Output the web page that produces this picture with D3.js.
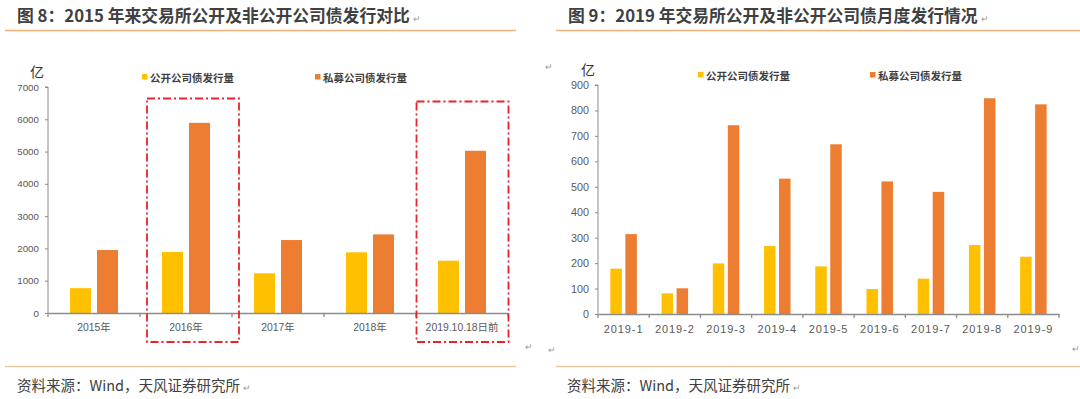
<!DOCTYPE html>
<html><head><meta charset="utf-8">
<script src="https://cdn.jsdelivr.net/npm/d3@7"></script>
<style>body{margin:0;background:#fff;}svg{display:block;}</style>
</head><body>
<svg id="c" width="1080" height="399"></svg>
<script>
const leftCats = ["2015年","2016年","2017年","2018年","2019.10.18日前"];
const leftPublic = [770, 1890, 1230, 1880, 1620];
const leftPrivate = [1950, 5890, 2260, 2435, 5025];
const leftTicks = [0,1000,2000,3000,4000,5000,6000,7000];
const leftHighlight = ["2016年","2019.10.18日前"];

const rightCats = ["2019-1","2019-2","2019-3","2019-4","2019-5","2019-6","2019-7","2019-8","2019-9"];
const rightPublic = [178, 81, 199, 267, 187, 98, 139, 271, 225];
const rightPrivate = [314, 101, 742, 532, 667, 521, 480, 848, 824];
const rightTicks = [0,100,200,300,400,500,600,700,800,900];

const seriesNames = ["公开公司债发行量","私募公司债发行量"];
const seriesNamesR = ["公开公司债发行量","私募公司债发行量"];
const titles = ["图 8：2015 年来交易所公开及非公开公司债发行对比","图 9：2019 年交易所公开及非公开公司债月度发行情况"];
const sourceText = "资料来源：Wind，天风证券研究所";

const YEL = "#FFC000", ORA = "#ED7D31";
const FONT = "'Liberation Sans','Noto Sans CJK SC',sans-serif";
const CJK = "'Noto Sans CJK SC',sans-serif";
const svg = d3.select("#c");

function header(x, lineX0, lineX1, title, srcX, botX0) {
  svg.append("text").attr("x", x).attr("y", 22).attr("font-family", CJK).attr("font-weight", "bold")
    .attr("font-size", 16.8).attr("fill", "#404040").text(title)
    .append("tspan").attr("font-size", 9).attr("font-weight", "normal").attr("fill", "#999").attr("dx", 3).text("↵");
  svg.append("line").attr("x1", lineX0).attr("x2", lineX1).attr("y1", 30.5).attr("y2", 30.5)
    .attr("stroke", "#F2B07A").attr("stroke-width", 1.3);
  svg.append("line").attr("x1", botX0).attr("x2", lineX1).attr("y1", 366.5).attr("y2", 366.5)
    .attr("stroke", "#EBC9A0").attr("stroke-width", 1.3);
  svg.append("text").attr("x", srcX).attr("y", 391).attr("font-family", CJK)
    .attr("font-size", 14.5).attr("fill", "#404040").text(sourceText)
    .append("tspan").attr("font-size", 9).attr("fill", "#999").attr("dx", 3).text("↵");
}
header(17, 5, 516, titles[0], 17, 5);
header(568, 556, 1080, titles[1], 567, 556);
svg.append("text").attr("x", 548).attr("y", 353).attr("font-size", 9).attr("fill", "#999").text("↵");
svg.append("text").attr("x", 525).attr("y", 350).attr("font-size", 9).attr("fill", "#999").text("↵");
svg.append("text").attr("x", 545).attr("y", 70).attr("font-size", 9).attr("fill", "#999").text("↵");
svg.append("text").attr("x", 1072).attr("y", 352).attr("font-size", 9).attr("fill", "#999").text("↵");

function chart(opt) {
  const g = svg.append("g");
  const x = d3.scaleBand().domain(opt.cats).range([opt.x0, opt.x1]);
  const y = d3.scaleLinear().domain([0, opt.ticks[opt.ticks.length-1]]).range([opt.y0, opt.y1]);
  const ya = g.append("g").attr("transform", `translate(${opt.x0},0)`)
    .call(d3.axisLeft(y).tickValues(opt.ticks).tickSize(3).tickPadding(opt.tpad).tickFormat(d3.format("d")));
  ya.select(".domain").attr("stroke", "#8c8c8c").attr("d", `M-3,${opt.y1}H0V${opt.y0}`);
  ya.selectAll(".tick line").attr("stroke", "#8c8c8c");
  ya.selectAll(".tick text").attr("font-family", FONT).attr("font-size", opt.tfs).attr("fill", "#595959");
  const bw = opt.bw, gap = opt.gap;
  const series = [opt.pub, opt.priv];
  const cols = [YEL, ORA];
  series.forEach((vals, si) => {
    g.selectAll(null).data(opt.cats).enter().append("rect")
      .attr("x", (d) => x(d) + x.bandwidth()/2 + (si === 0 ? -(bw + gap/2) : gap/2))
      .attr("width", bw)
      .attr("y", (d, i) => y(vals[i]))
      .attr("height", (d, i) => opt.y0 - y(vals[i]))
      .attr("fill", cols[si]);
  });
  const xa = g.append("g").attr("transform", `translate(0,${opt.y0})`)
    .call(d3.axisBottom(x).tickSize(0).tickPadding(opt.xpad));
  xa.select(".domain").attr("stroke", "#8c8c8c").attr("stroke-width", 1.3);
  xa.selectAll(".tick text").attr("font-family", FONT).attr("font-size", opt.xfs).attr("fill", "#595959")
    .attr("letter-spacing", opt.ls);
  const bounds = opt.cats.map(c => x(c)).concat([opt.x1]);
  g.selectAll(null).data(bounds).enter().append("line")
    .attr("x1", d => d).attr("x2", d => d).attr("y1", opt.y0).attr("y2", opt.y0 + 4)
    .attr("stroke", "#8c8c8c").attr("stroke-width", 1.3);
  g.append("text").attr("x", opt.unitX).attr("y", opt.y1 - 10).attr("font-family", CJK)
    .attr("font-size", 14).attr("fill", "#333").text("亿");
  opt.legend.forEach((lx, i) => {
    g.append("rect").attr("x", lx).attr("y", opt.legY - 4).attr("width", 5.5).attr("height", 5.5).attr("fill", cols[i]);
    g.append("text").attr("x", lx + 8).attr("y", opt.legY + 4).attr("font-family", CJK).attr("font-weight", "bold")
      .attr("font-size", opt.lfs).attr("fill", "#404040").text(opt.names[i]);
  });
  return {x, y, g};
}

const L = chart({cats: leftCats, pub: leftPublic, priv: leftPrivate, ticks: leftTicks,
  x0: 48, x1: 508, y0: 313, y1: 87, bw: 21, gap: 6, tfs: 9.8, xfs: 10.4, tpad: 6, xpad: 11, ls: 0,
  unitX: 30, legend: [142, 315], legY: 78, lfs: 10.5, names: seriesNames});

// hand-drawn highlight boxes (offsets relative to category band)
const boxShift = [7, 0.5];
const boxTop = [98.5, 101.5];
leftHighlight.forEach((c, i) => {
  const x0 = L.x(c) + boxShift[i], x1 = L.x(c) + L.x.bandwidth() + boxShift[i];
  L.g.append("rect").attr("x", x0).attr("y", boxTop[i]).attr("width", x1 - x0).attr("height", 342 - boxTop[i])
    .attr("fill", "none").attr("stroke", "#E8222B").attr("stroke-width", 1.8)
    .attr("stroke-dasharray", "8,3,2,3");
});

chart({cats: rightCats, pub: rightPublic, priv: rightPrivate, ticks: rightTicks,
  x0: 598, x1: 1059, y0: 314, y1: 85, bw: 11.5, gap: 3.5, tfs: 10.8, xfs: 11, tpad: 6, xpad: 11, ls: 0.9,
  unitX: 581, legend: [698, 870], legY: 76, lfs: 10.5, names: seriesNamesR});
</script>
</body></html>
